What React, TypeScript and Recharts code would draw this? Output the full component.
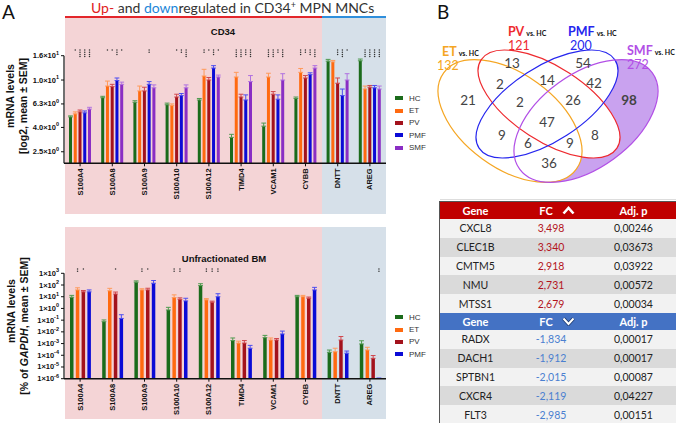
import { BarChart, Bar, XAxis, YAxis, ErrorBar, LabelList } from 'recharts'

const genes = ['S100A4', 'S100A8', 'S100A9', 'S100A10', 'S100A12', 'TIMD4', 'VCAM1', 'CYBB', 'DNTT', 'AREG']

// CD34+ MNCs: mRNA levels (log2 mean) and SEM
const hcCd34 = [4.9, 7.1, 6.5, 6.2, 6.8, 3.3, 4.1, 7.0, 14.4, 14.5]
const etCd34 = [5.2, 8.9, 8.1, 6.1, 10.8, 10.6, 10.6, 11.6, 14.2, 8.4]
const pvCd34 = [5.4, 8.8, 8.1, 7.2, 10.0, 7.2, 7.6, 10.4, 9.4, 8.7]
const pmfCd34 = [5.3, 9.9, 9.2, 7.4, 12.6, 6.8, 6.9, 11.1, 7.4, 8.6]
const smfCd34 = [5.7, 9.2, 8.6, 8.6, 10.6, 9.7, 10.0, 12.6, 10.0, 8.4]

const hcCd34Err = [0.1, 0.2, 0.2, 0.2, 0.2, 0.2, 0.25, 0.2, 0.5, 0.5]
const etCd34Err = [0.2, 0.9, 0.8, 0.2, 1.5, 1.0, 0.8, 0.9, 0.4, 0.5]
const pvCd34Err = [0.2, 0.4, 0.6, 0.4, 0.5, 0.4, 0.4, 0.5, 1.0, 0.3]
const pmfCd34Err = [0.2, 0.5, 0.5, 0.3, 0.6, 0.7, 0.6, 0.4, 1.0, 0.4]
const smfCd34Err = [0.2, 0.4, 0.5, 0.5, 0.4, 1.2, 1.3, 0.6, 1.3, 0.5]

// number of significance stars vs. HC
const etCd34Sig = [1, 1, 0, 0, 2, 4, 4, 3, 0, 4]
const pvCd34Sig = [4, 1, 0, 1, 1, 4, 4, 2, 3, 4]
const pmfCd34Sig = [4, 3, 2, 2, 3, 3, 2, 3, 4, 4]
const smfCd34Sig = [4, 1, 0, 4, 1, 4, 4, 4, 1, 4]

// Unfractionated BM: % of GAPDH
const hcBm = [9, 0.074, 174, 0.74, 89, 0.0018, 0.0032, 10, 0.00018, 0.00093]
const etBm = [38, 32, 38, 8.4, 5.4, 0.0011, 0.002, 10, 0.0002, 0.00028]
const pvBm = [26, 17, 38, 6, 3.4, 0.0011, 0.002, 7.4, 0.002, 0.000055]
const pmfBm = [26, 0.14, 142, 4.4, 10, 0.0004, 0.0066, 38, 0.00015, 0.0000011]

const hcBmErr = [4, 0.03, 50, 0.5, 40, 0.0012, 0.0018, 3, 0.0001, 0.0008]
const etBmErr = [20, 20, 10, 6, 1.5, 0.0005, 0.001, 3, 0.0002, 0.0002]
const pvBmErr = [8, 8, 15, 2, 0.8, 0.0007, 0.0007, 2, 0.002, 0.00004]
const pmfBmErr = [12, 0.15, 100, 3, 8, 0.0003, 0.005, 25, 0.00008, 0]

const etBmSig = [2, 0, 2, 2, 2, 0, 0, 0, 0, 0]
const pvBmSig = [1, 1, 1, 2, 2, 0, 0, 0, 0, 0]
const pmfBmSig = [0, 0, 0, 0, 2, 0, 0, 0, 0, 2]

const groups = ['HC', 'ET', 'PV', 'PMF', 'SMF']
const groupColors = ['#1b6b1b', '#ff6a10', '#a3121c', '#0b0bd6', '#8a2ec4']
const errColors = ['#4f9a4f', '#ff9a5a', '#d0474d', '#4d4df0', '#b172e0']

const cd34Ticks = [2.5, 4, 6.3, 10, 16]
const cd34TickMant = ['2.5', '4.0', '6.3', '1.0', '1.6']
const cd34TickExp = ['0', '0', '0', '1', '1']
const bmTicks = [1e-6, 1e-5, 1e-4, 1e-3, 1e-2, 1e-1, 1, 10, 100, 1000]
const bmTickMant = ['1', '1', '1', '1', '1', '1', '1', '1', '1', '1']
const bmTickExp = ['-6', '-5', '-4', '-3', '-2', '-1', '0', '1', '2', '3']

// Venn (B)
const vennNames = ['ET', 'PV', 'PMF', 'SMF']
const vennTotals = [132, 121, 200, 272]
const vennColors = ['#f5a623', '#ee2a2f', '#2626ee', '#b24fe6']
const vennCounts = [13, 54, 2, 14, 42, 21, 2, 26, 98, 47, 9, 8, 6, 9, 36]

// table (B)
const upGenes = ['CXCL8', 'CLEC1B', 'CMTM5', 'NMU', 'MTSS1']
const upFc = [3.498, 3.34, 2.918, 2.731, 2.679]
const upP = [0.00246, 0.03673, 0.03922, 0.00572, 0.00034]
const downGenes = ['RADX', 'DACH1', 'SPTBN1', 'CXCR4', 'FLT3']
const downFc = [-1.834, -1.912, -2.015, -2.119, -2.985]
const downP = [0.00017, 0.00017, 0.00087, 0.04227, 0.00151]

const makeRows = (keys: string[], values: number[][], errors: number[][], sig: (number[] | null)[]) =>
  genes.map((gene, i) => {
    const row: any = { gene }
    keys.forEach((k, j) => {
      row[k] = values[j][i]
      row['err' + k] = [0, errors[j][i]]
      row['sig' + k] = sig[j] ? sig[j]![i] : 0
    })
    return row
  })

const cd34Data = makeRows(
  groups,
  [hcCd34, etCd34, pvCd34, pmfCd34, smfCd34],
  [hcCd34Err, etCd34Err, pvCd34Err, pmfCd34Err, smfCd34Err],
  [null, etCd34Sig, pvCd34Sig, pmfCd34Sig, smfCd34Sig]
)
const bmGroups = groups.slice(0, 4)
const bmData = makeRows(
  bmGroups,
  [hcBm, etBm, pvBm, pmfBm],
  [hcBmErr, etBmErr, pvBmErr, pmfBmErr],
  [null, etBmSig, pvBmSig, pmfBmSig]
)

const AX = 'Liberation Sans, Arial, sans-serif'
const CAL = 'Lato, Open Sans, sans-serif'

const GeneTick = (props: any) => {
  const { x, y, payload } = props
  return (
    <text x={x} y={y + 1} transform={`rotate(-90 ${x} ${y + 1})`} textAnchor="end" dominantBaseline="central"
      fontSize={7.5} fontWeight={700} fill="#111" fontFamily={AX}>{payload.value}</text>
  )
}

const valueTick = (ticks: number[], mant: string[], exp: string[]) => (props: any) => {
  const { x, y, payload } = props
  const i = ticks.indexOf(payload.value)
  if (i < 0) return <g />
  return (
    <text x={x} y={y + 2.5} textAnchor="end" fontSize={7.5} fontWeight={700} fill="#111" fontFamily={AX}>
      {mant[i]}×10<tspan dy={-3.5} fontSize={5.5}>{exp[i]}</tspan>
    </text>
  )
}

const starContent = (top: number) => (props: any) => {
  const n = Number(props.value) || 0
  if (!n) return null
  const vb = props.viewBox ?? props
  const cx = vb.x + vb.width / 2
  return (
    <g>
      {Array.from({ length: n }, (_, i) => (
        <circle key={i} cx={cx} cy={top + i * 2.2} r={0.75} fill="#333" />
      ))}
    </g>
  )
}

function GenePanel(p: {
  data: any[]; keys: string[]; height: number; plotTop: number; axisH: number; domain: number[];
  ticks: number[]; mant: string[]; exp: string[]; barSize: number; barGap: number; starY: number
}) {
  return (
    <BarChart width={440} height={p.height} data={p.data} margin={{ top: p.plotTop, right: 54, bottom: 0, left: 0 }}
      barGap={p.barGap}>
      <XAxis dataKey="gene" height={p.axisH} interval={0} tick={<GeneTick />} tickSize={3} tickMargin={1}
        axisLine={{ stroke: '#111', strokeWidth: 1.4 }} tickLine={{ stroke: '#111' }} />
      <YAxis type="number" scale="log" domain={p.domain} ticks={p.ticks} interval={0} allowDataOverflow width={64}
        tickSize={3} tickMargin={2} axisLine={{ stroke: '#111', strokeWidth: 1.2 }} tickLine={{ stroke: '#111' }}
        tick={valueTick(p.ticks, p.mant, p.exp)} />
      {p.keys.map((k, j) => (
        <Bar key={k} dataKey={k} fill={groupColors[j]} barSize={p.barSize} isAnimationActive={false}>
          <ErrorBar dataKey={'err' + k} direction="y" width={2.4} stroke={errColors[j]} strokeWidth={1} />
          {j > 0 && <LabelList dataKey={'sig' + k} content={starContent(p.starY)} />}
        </Bar>
      ))}
    </BarChart>
  )
}

const Legend = ({ keys, top }: { keys: string[]; top: number }) => (
  <div style={{ position: 'absolute', left: 395, top, fontFamily: AX, fontSize: 8, color: '#333' }}>
    {keys.map((k, j) => (
      <div key={k} style={{ display: 'flex', alignItems: 'center', height: 12.4 }}>
        <span style={{ width: 8, height: 4, background: groupColors[j], marginRight: 6 }} />
        {k}
      </div>
    ))}
  </div>
)

const bg = (left: number, top: number, width: number, height: number, color: string) => (
  <div style={{ position: 'absolute', left, top, width, height, background: color }} />
)

// ellipse geometry for the Venn diagram (page coordinates)
const vennShapes = [
  { cx: 510, cy: 121, rx: 82, ry: 47, rot: 36 },
  { cx: 549, cy: 104, rx: 81, ry: 37, rot: 33 },
  { cx: 547, cy: 104, rx: 81, ry: 37, rot: -33 },
  { cx: 586, cy: 121, rx: 82, ry: 47, rot: -36 },
]
const vennCountPos = [
  [512, 63], [583, 63], [500, 84], [547, 80], [594, 83], [468, 100], [520, 102], [573, 100],
  [629, 100], [547, 122], [502, 135], [595, 135], [528, 143], [570, 143], [549, 163],
]
const vennTitlePos = [
  [442, 56, 437, 69.5], [508, 36, 508, 49.5], [568, 36, 570, 49.5], [627, 55, 627, 68.5],
]

const ell = (s: any, extra: any) => (
  <ellipse cx={s.cx} cy={s.cy} rx={s.rx} ry={s.ry} transform={`rotate(${s.rot} ${s.cx} ${s.cy})`} {...extra} />
)

const Venn = () => (
  <svg width={256} height={200} style={{ position: 'absolute', left: 420, top: 0 }}>
    <g transform="translate(-420,0)">
      <defs>
        <mask id="smfOnly" maskUnits="userSpaceOnUse" x={420} y={0} width={256} height={200}>
          <rect x={420} y={0} width={256} height={200} fill="white" />
          {vennShapes.slice(0, 3).map((s, i) => <g key={i}>{ell(s, { fill: 'black' })}</g>)}
        </mask>
      </defs>
      <g mask="url(#smfOnly)">{ell(vennShapes[3], { fill: '#c9a2ef' })}</g>
      {vennShapes.map((s, i) => (
        <g key={i}>{ell(s, { fill: 'none', stroke: vennColors[i], strokeWidth: 1.2 })}</g>
      ))}
      {vennCounts.map((c, i) => (
        <text key={i} x={vennCountPos[i][0]} y={vennCountPos[i][1]} textAnchor="middle" dominantBaseline="central"
          fontSize={13.5} fontWeight={c === 98 ? 700 : 400} fill="#444" fontFamily={CAL}>{c}</text>
      ))}
      {vennNames.map((n, i) => (
        <g key={n} fontFamily={CAL}>
          <text x={vennTitlePos[i][0]} y={vennTitlePos[i][1]}>
            <tspan fontSize={12.5} fontWeight={700} fill={vennColors[i]}>{n}</tspan>
            <tspan dx={2} fontSize={7} fontWeight={700} fill="#111">vs. HC</tspan>
          </text>
          <text x={vennTitlePos[i][2]} y={vennTitlePos[i][3]} fontSize={12.5} fill={vennColors[i]}>{vennTotals[i]}</text>
        </g>
      ))}
    </g>
  </svg>
)

const Chevron = ({ up }: { up: boolean }) => (
  <svg width={13} height={9} style={{ marginLeft: 9 }}>
    <polyline points={up ? '1.5,7.5 6.5,2 11.5,7.5' : '1.5,1.5 6.5,7 11.5,1.5'} fill="none"
      stroke={up ? '#fff' : '#1d3a70'} strokeWidth={up ? 2.6 : 3.6} />
    {!up && <polyline points="1.5,1.5 6.5,7 11.5,1.5" fill="none" stroke="#fff" strokeWidth={2} />}
  </svg>
)

const fmt = (v: number, d: number) => v.toFixed(d).replace('.', ',')

const GeneTable = () => {
  const cols = '71px 80px 1fr'
  const header = (color: string, up: boolean) => (
    <div style={{ display: 'grid', gridTemplateColumns: cols, height: 17, alignItems: 'center', background: color,
      color: '#fff', fontWeight: 700, textAlign: 'center', fontSize: 11 }}>
      <span>Gene</span>
      <span style={{ display: 'flex', justifyContent: 'center', alignItems: 'center', paddingLeft: 12 }}>FC<Chevron up={up} /></span>
      <span>Adj. p</span>
    </div>
  )
  const rows = (names: string[], fc: number[], p: number[], fcColor: string) =>
    names.map((g, i) => (
      <div key={g} style={{ display: 'grid', gridTemplateColumns: cols, height: 18.8, alignItems: 'center',
        textAlign: 'center', background: i % 2 ? '#dadada' : '#f2f2f2', color: '#222' }}>
        <span>{g}</span>
        <span style={{ color: fcColor }}>{fmt(fc[i], 3)}</span>
        <span>{fmt(p[i], 5)}</span>
      </div>
    ))
  return (
    <div style={{ position: 'absolute', left: 439, top: 201, width: 236, border: '1px solid #555',
      fontFamily: CAL, fontSize: 10.5 }}>
      {header('#c00000', true)}
      {rows(upGenes, upFc, upP, '#b3141c')}
      {header('#4472c4', false)}
      {rows(downGenes, downFc, downP, '#4a7fd0')}
    </div>
  )
}

export default function App() {
  return (
    <div style={{ position: 'relative', width: 676, height: 423, overflow: 'hidden', background: '#fff' }}>
      <style>{'body{margin:0}'}</style>
      {bg(65, 18, 257, 196, '#f4d4d6')}
      {bg(322, 18, 64, 196, '#d6e0e9')}
      {bg(65, 227, 257, 192, '#f4d4d6')}
      {bg(322, 227, 64, 192, '#d6e0e9')}
      {bg(65, 15.5, 257, 2.5, '#e3262b')}
      {bg(322, 15.5, 64, 2.5, '#2f8fdc')}

      <div style={{ position: 'absolute', left: 0, top: 0 }}>
        <GenePanel data={cd34Data} keys={groups} height={218} plotTop={55.7} axisH={54.7} domain={[2, 16]}
          ticks={cd34Ticks} mant={cd34TickMant} exp={cd34TickExp} barSize={3} barGap={1.75} starY={50} />
      </div>
      <div style={{ position: 'absolute', left: 0, top: 220 }}>
        <GenePanel data={bmData} keys={bmGroups} height={203} plotTop={53.3} axisH={44.3} domain={[1e-6, 1e3]}
          ticks={bmTicks} mant={bmTickMant} exp={bmTickExp} barSize={3.5} barGap={2.3} starY={49} />
      </div>

      <Legend keys={groups} top={92} />
      <Legend keys={bmGroups} top={311} />

      <svg width={440} height={423} style={{ position: 'absolute', left: 0, top: 0, pointerEvents: 'none' }}>
        <text x={2} y={19} fontSize={19} fontFamily={CAL} fill="#111">A</text>
        <text x={91} y={13} fontSize={14} fontFamily={CAL} fill="#333">
          <tspan fill="#e02020">Up-</tspan> and <tspan fill="#1c86d8">down</tspan>regulated in CD34
          <tspan dy={-5} fontSize={9}>+</tspan><tspan dy={5}> MPN MNCs</tspan>
        </text>
        <text x={223} y={35} textAnchor="middle" fontSize={9.5} fontWeight={700} fontFamily={AX} fill="#111">CD34</text>
        <text x={224} y={262} textAnchor="middle" fontSize={9.5} fontWeight={700} fontFamily={AX} fill="#111">Unfractionated BM</text>
        <g fontFamily={AX} fontWeight={700} fill="#111" textAnchor="middle" fontSize={10.5}>
          <text transform="translate(14,96) rotate(-90)">mRNA levels</text>
          <text transform="translate(27,106) rotate(-90)">[log2, mean ± SEM]</text>
          <text transform="translate(15,311) rotate(-90)">mRNA levels</text>
          <text transform="translate(28,326) rotate(-90)">[% of <tspan fontStyle="italic">GAPDH</tspan>, mean ± SEM]</text>
        </g>
      </svg>

      <svg width={240} height={30} style={{ position: 'absolute', left: 430, top: 0 }}>
        <text x={7} y={19} fontSize={19} fontFamily={CAL} fill="#111">B</text>
      </svg>
      <Venn />
      {bg(440, 198.5, 236, 1, '#dddddd')}
      <GeneTable />
    </div>
  )
}
